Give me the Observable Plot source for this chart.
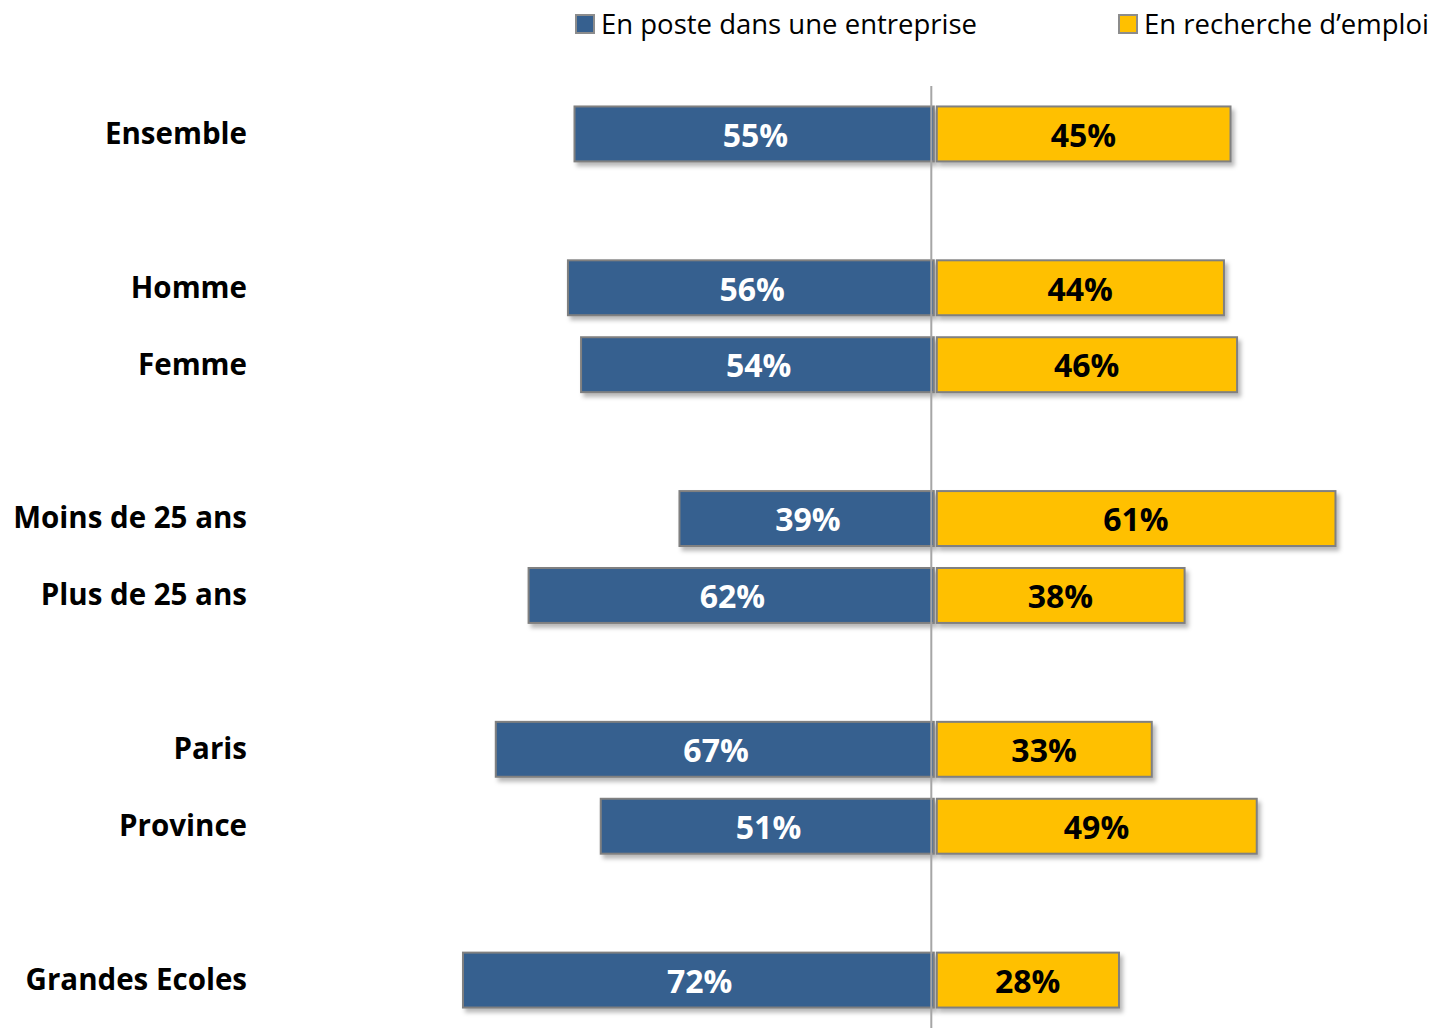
<!DOCTYPE html>
<html>
<head>
<meta charset="utf-8">
<script src="https://cdn.jsdelivr.net/npm/d3@7"></script>
<script src="https://cdn.jsdelivr.net/npm/@observablehq/plot@0.6"></script>
<style>
  html, body { margin: 0; padding: 0; background: #fff; }
  body { width: 1438px; height: 1028px; overflow: hidden; font-family: "Open Sans", Lato, sans-serif; }
  #legend { position: relative; height: 60px; width: 1438px; }
  .item { position: absolute; top: 5px; display: flex; align-items: center; font-size: 27.5px; color: #000; white-space: nowrap; }
  .sw { width: 16px; height: 16px; border: 2px solid #8c8c8c; margin-right: 6px; box-sizing: content-box; }
</style>
</head>
<body>
<div id="legend"></div>
<div id="chart"></div>
<script>
const categories = ["Ensemble", "Homme", "Femme", "Moins de 25 ans", "Plus de 25 ans", "Paris", "Province", "Grandes Ecoles"];
const enPoste = [55, 56, 54, 39, 62, 67, 51, 72];
const enRecherche = [45, 44, 46, 61, 38, 33, 49, 28];
const slots = ["Ensemble", "gap1", "Homme", "Femme", "gap2", "Moins de 25 ans", "Plus de 25 ans", "gap3", "Paris", "Province", "gap4", "Grandes Ecoles"];
const seriesNames = ["En poste dans une entreprise", "En recherche d\u2019emploi"];
const colors = ["#36608F", "#FFC000"];

const legend = document.getElementById("legend");
const legendLeft = [575, 1118];
seriesNames.forEach((name, i) => {
  const d = document.createElement("div");
  d.className = "item";
  d.style.left = legendLeft[i] + "px";
  d.innerHTML = `<span class="sw" style="background:${colors[i]}"></span><span>${name}</span>`;
  legend.appendChild(d);
});

const left = categories.map((c, i) => ({cat: c, v: enPoste[i]}));
const right = categories.map((c, i) => ({cat: c, v: enRecherche[i]}));

const chart = Plot.plot({
  width: 1438,
  height: 968,
  marginTop: 26,
  marginBottom: 0,
  marginLeft: 410.5,
  marginRight: 43.5,
  x: {domain: [-80, 70], axis: null},
  y: {domain: slots, paddingInner: 0.286, paddingOuter: 0.266, round: false, axis: null},
  style: {fontFamily: "'Open Sans', Lato, sans-serif", background: "#fff"},
  marks: [
    Plot.axisY({
      tickSize: 0,
      tickPadding: 164,
      fontSize: 29.5,
      fontWeight: "bold",
      tickFormat: d => d.startsWith("gap") ? "" : d,
      label: null,
      textStroke: "none"
    }),
    Plot.barX(left, {x1: d => -d.v, x2: 0, y: "cat", fill: colors[0], stroke: "#808080", strokeWidth: 2, insetRight: 1.5}),
    Plot.barX(right, {x1: 0, x2: d => d.v, y: "cat", fill: colors[1], stroke: "#808080", strokeWidth: 2, insetLeft: 1.5}),
    Plot.ruleX([0], {stroke: "#a6a6a6", strokeWidth: 2, dx: -4.5}),
    Plot.text(left, {x: d => -d.v / 2, y: "cat", text: d => d.v + "%", fill: "#fff", fontSize: 32, fontWeight: "bold", dy: 2}),
    Plot.text(right, {x: d => d.v / 2, y: "cat", text: d => d.v + "%", fill: "#000", fontSize: 32, fontWeight: "bold", dy: 2})
  ]
});
document.getElementById("chart").appendChild(chart);
d3.select(chart).selectAll('g[aria-label="bar"]').style("filter", "drop-shadow(3px 4px 2px rgba(0,0,0,0.28))");
</script>
</body>
</html>
